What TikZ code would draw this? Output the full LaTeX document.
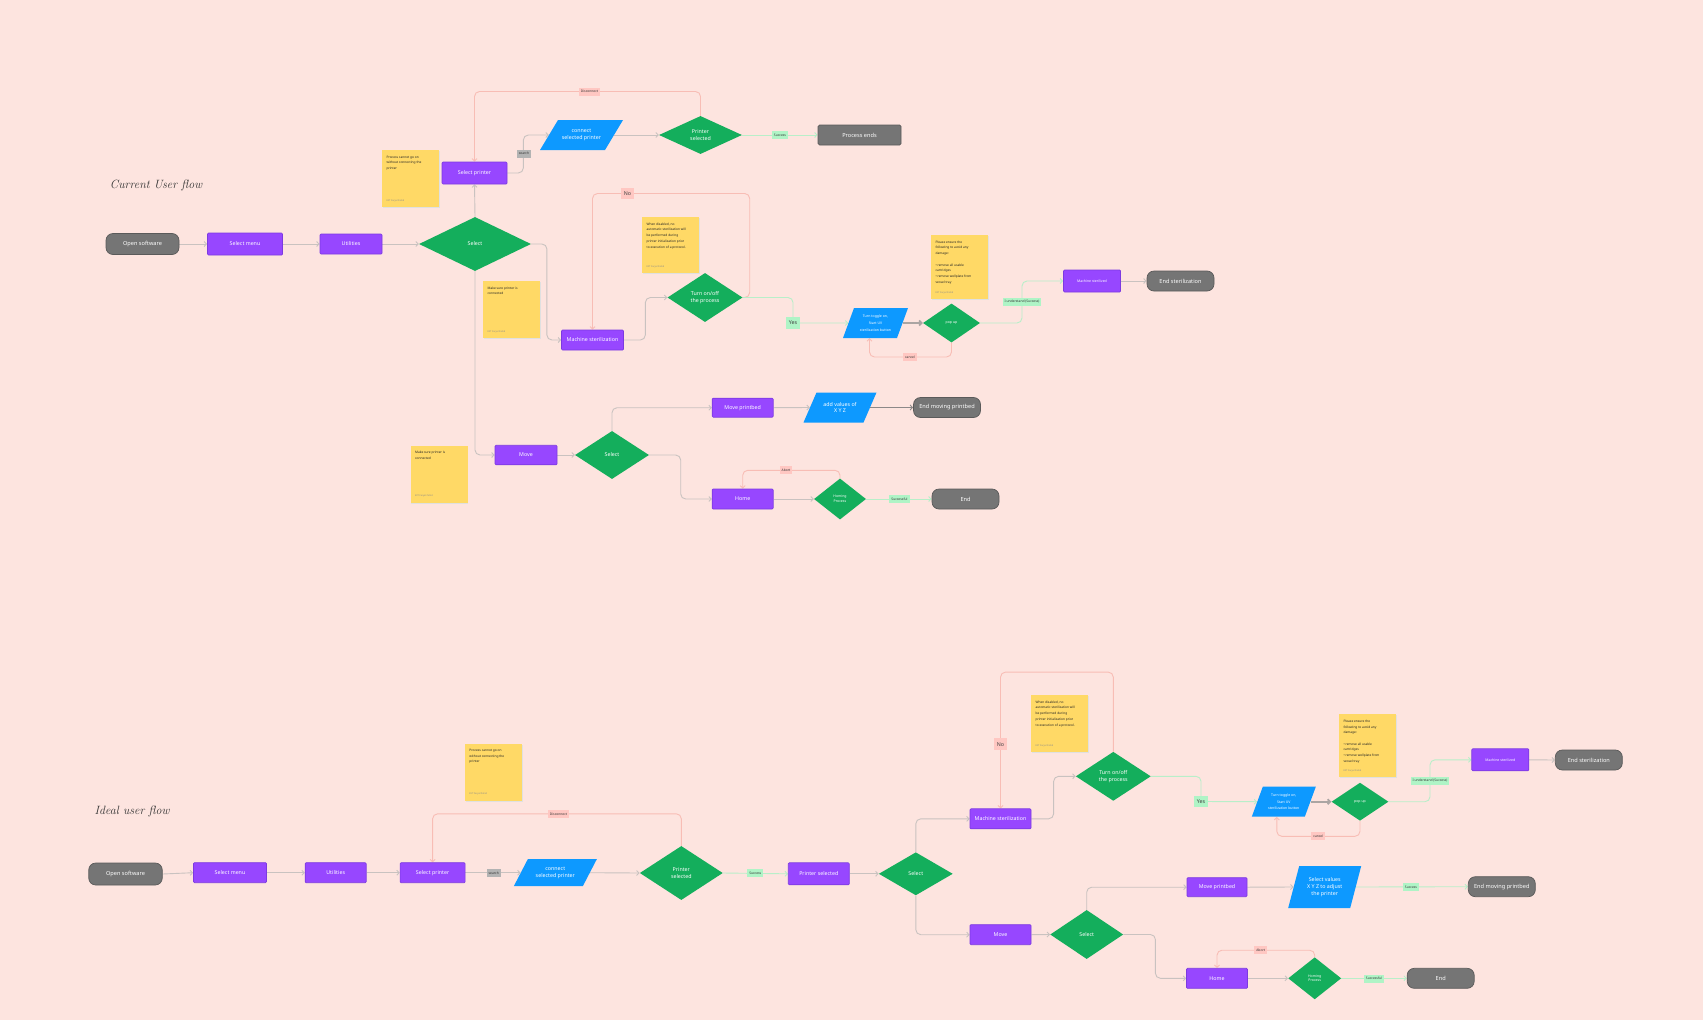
\documentclass[tikz,border=0pt]{standalone}
\usepackage{fontspec}
\setsansfont{Noto Sans}
\renewcommand{\familydefault}{\sfdefault}
\usetikzlibrary{shapes.geometric,arrows.meta,calc}
\pgfdeclarelayer{back}\pgfdeclarelayer{lines}\pgfsetlayers{back,lines,main}
\definecolor{bg}{HTML}{FDE4DF}
\definecolor{ppl}{HTML}{9747FF}
\definecolor{pplb}{HTML}{7C3AE0}
\definecolor{grn}{HTML}{14AE5C}
\definecolor{blu}{HTML}{0D99FF}
\definecolor{gry}{HTML}{757575}
\definecolor{gryb}{HTML}{5A5A5A}
\definecolor{yel}{HTML}{FFD966}
\definecolor{lpink}{HTML}{FFC7C2}
\definecolor{lgreen}{HTML}{AFF4C6}
\definecolor{lgray}{HTML}{B3B3B3}
\definecolor{cgray}{HTML}{C9C2C0}
\definecolor{dgray}{HTML}{8C8888}
\definecolor{cpink}{HTML}{F8BDB5}
\definecolor{cgreen}{HTML}{B8EFC9}
\newcommand\myfA{\fontsize{5.3}{6.8}\selectfont}
\newcommand\myfB{\fontsize{5.6}{7}\selectfont}
\newcommand\myfS{\fontsize{3.5}{4.8}\selectfont}
\newcommand\myfT{\fontsize{3.3}{4}\selectfont}
\newcommand\myfN{\fontsize{3.2}{5.7}\selectfont}
\newcommand\myfF{\fontsize{2.3}{3}\selectfont}
\newcommand\myparal[7]{%
  \fill[blu] ({#2-#4/2-#6/2},{#3+#5/2}) -- ({#2+#4/2-#6/2},{#3+#5/2}) -- ({#2+#4/2+#6/2},{#3-#5/2}) -- ({#2-#4/2+#6/2},{#3-#5/2}) -- cycle;
  \node[io, minimum width=#4pt, minimum height=#5pt] (#1) at (#2,#3) {#7};}
\newcommand\mynote[5]{%
  \node[note, minimum height=#4pt] (#1) at (#2,#3) {};
  \node[notetext, anchor=north west] (#1t) at ([shift={(4.6,5.8)}]#1.north west) {#5};
  \node[notefoot, anchor=south west] (#1f) at ([shift={(4.6,-5)}]#1.south west) {EXT Faryal Zahid};}
\begin{document}
\begin{tikzpicture}[x=1pt,y=-1pt,
  proc/.style={rectangle, fill=ppl, draw=pplb, line width=0.7pt, text=white, font=\myfA, inner sep=0pt, rounded corners=1pt},
  term/.style={rectangle, rounded corners=7pt, fill=gry, draw=gryb, line width=0.7pt, text=white, font=\myfB, inner sep=0pt},
  dec/.style={diamond, fill=grn, text=white, inner sep=0pt, font=\myfA, align=center},
  io/.style={rectangle, inner sep=0pt, text=white, align=center, font=\myfA},
  lab/.style={rectangle, inner xsep=2pt, inner ysep=0pt, minimum height=8pt, font=\myfT, text=black!80},
  plab/.style={lab, fill=lpink},
  glab/.style={lab, fill=lgreen},
  slab/.style={lab, fill=lgray},
  biglab/.style={rectangle, inner xsep=3pt, inner ysep=0pt, minimum height=11.5pt, font=\myfA, text=black!75},
  note/.style={rectangle, fill=yel, inner sep=0pt, minimum width=57pt,
     preaction={fill=black!12, transform canvas={shift={(0.7pt,-1.1pt)}}}},
  notetext/.style={inner sep=0pt, align=left, font=\myfN, text=black!85},
  notefoot/.style={inner sep=0pt, font=\myfF, text=black!45},
  ttl/.style={font=\rmfamily\itshape\fontsize{12}{14}\selectfont, text=black!80},
  tip/.style={-{Straight Barb[length=2.4pt,width=5pt]}},
  flow/.style={draw=cgray, line width=0.9pt, rounded corners=5pt, tip},
  dflow/.style={draw=dgray, line width=0.9pt, tip},
  tflow/.style={draw=cgray!85!black, line width=1.8pt, tip},
  pflow/.style={draw=cpink, line width=0.9pt, rounded corners=5pt, tip},
  gflow/.style={draw=cgreen, line width=0.9pt, rounded corners=5pt, tip}]
\begin{pgfonlayer}{back}
\fill[bg] (0,0) rectangle (1703,1020);
\end{pgfonlayer}
\useasboundingbox (0,0) rectangle (1703,1020);

% ===================== CURRENT USER FLOW =====================
\node[ttl] (title1) at (156,185) {Current User flow};
\node[term, minimum width=73pt, minimum height=21pt] (c_open) at (142.5,244) {Open software};
\node[proc, minimum width=75pt, minimum height=22pt] (c_menu) at (245,244) {Select menu};
\node[proc, minimum width=62pt, minimum height=20pt] (c_util) at (351,244) {Utilities};
\node[dec, minimum width=112pt, minimum height=54pt] (c_sel) at (475,244) {Select};
\node[proc, minimum width=65pt, minimum height=22pt] (c_selp) at (474.5,173) {Select printer};
\mynote{c_note1}{410.5}{178.5}{57}{Process cannot go on\\without connecting the\\printer}
\mynote{c_note2}{511.5}{309.5}{57}{Make sure printer is\\connected}
\myparal{c_conn}{581.5}{135}{65}{30}{18}{connect\\selected printer}
\node[dec, minimum width=83pt, minimum height=38pt] (c_prs) at (700.5,135) {Printer\\selected};
\node[term, rounded corners=1.5pt, minimum width=83pt, minimum height=20pt] (c_end1) at (859.5,135) {Process ends};
\node[slab] (c_search) at (524,153.5) {search};
\node[glab] (c_succ) at (780,135) {Success};
\node[plab] (c_disc) at (589.5,91.5) {Disconnect};
\node[dec, minimum width=75pt, minimum height=49pt] (c_turn) at (705,297.5) {Turn on/off\\the process};
\mynote{c_note3}{670.5}{245}{56}{When disabled, no\\automatic sterilization will\\be performed during\\printer initialization prior\\to execution of a protocol.}
\node[proc, minimum width=62pt, minimum height=20pt] (c_ms) at (592.5,340) {Machine sterilization};
\node[biglab, fill=lpink] (c_no) at (627.5,193.5) {No};
\node[biglab, fill=lgreen] (c_yes) at (793,323) {Yes};
\myparal{c_tog}{875.5}{323}{54}{30}{11}{\myfS Turn toggle on,\\\myfS Start UV\\\myfS sterilization button}
\node[dec, font=\myfS, minimum width=57pt, minimum height=39pt] (c_pop) at (951.5,323) {pop up};
\mynote{c_note4}{959.5}{267}{64}{Please ensure the\\following to avoid any\\damage:\\[5.7pt]\textbullet{} remove all usable\\cartridges\\\textbullet{} remove wellplate from\\vessel tray}
\node[plab] (c_cancel) at (910,357) {cancel};
\node[glab] (c_und) at (1022,302) {I understand (Success)};
\node[proc, font=\myfS, minimum width=57pt, minimum height=22pt] (c_msd) at (1092,281) {Machine sterilized};
\node[term, minimum width=67pt, minimum height=20pt] (c_endst) at (1180.5,281) {End sterilization};
\node[proc, minimum width=62pt, minimum height=19.5pt] (c_move) at (526,455) {Move};
\mynote{c_note5}{439}{474}{57}{Make sure printer is\\connected}
\node[dec, minimum width=74pt, minimum height=48pt] (c_sel2) at (612,455) {Select};
\node[proc, minimum width=61pt, minimum height=19pt] (c_mpb) at (742.7,407.7) {Move printbed};
\myparal{c_xyz}{840}{407.5}{60}{30}{13}{add values of\\X Y Z}
\node[term, minimum width=67pt, minimum height=20pt] (c_endmp) at (947,407.5) {End moving printbed};
\node[proc, minimum width=61pt, minimum height=20pt] (c_home) at (742.7,499) {Home};
\node[dec, font=\myfS, minimum width=52pt, minimum height=41pt] (c_homing) at (840,499) {Homing\\Process};
\node[plab] (c_abort) at (786,470.3) {Abort};
\node[glab] (c_sful) at (899.5,499) {Successful};
\node[term, minimum width=67pt, minimum height=20pt] (c_end) at (965.5,499) {End};

% ===================== IDEAL USER FLOW =====================
\node[ttl] (title2) at (132,811.5) {Ideal user flow};
\node[term, minimum width=73.5pt, minimum height=22pt] (i_open) at (125.5,874) {Open software};
\node[proc, minimum width=73pt, minimum height=20pt] (i_menu) at (230,872.7) {Select menu};
\node[proc, minimum width=61pt, minimum height=20pt] (i_util) at (335.7,872.7) {Utilities};
\node[proc, minimum width=65pt, minimum height=20pt] (i_selp) at (432.6,872.7) {Select printer};
\node[slab] (i_search) at (493.7,873) {search};
\myparal{i_conn}{555.3}{872.7}{69}{27}{14}{connect\\selected printer}
\node[dec, minimum width=83pt, minimum height=54pt] (i_prs) at (681.3,873) {Printer\\selected};
\node[plab] (i_disc) at (558.5,813.8) {Disconnect};
\mynote{i_note6}{493.3}{772}{57}{Process cannot go on\\without connecting the\\printer}
\node[glab] (i_succ) at (755.3,873.2) {Success};
\node[proc, minimum width=61pt, minimum height=22pt] (i_prsb) at (818.8,873.8) {Printer selected};
\node[dec, minimum width=74pt, minimum height=43pt] (i_sel) at (915.8,873.8) {Select};
\node[proc, minimum width=61pt, minimum height=20pt] (i_ms) at (1000.5,818.8) {Machine sterilization};
\node[proc, minimum width=61pt, minimum height=20pt] (i_move) at (1000.5,934.7) {Move};
\node[dec, minimum width=75pt, minimum height=49pt] (i_turn) at (1113.3,776.3) {Turn on/off\\the process};
\node[biglab, fill=lpink] (i_no) at (1000.5,744.2) {No};
\mynote{i_note7}{1059.5}{723.5}{57}{When disabled, no\\automatic sterilization will\\be performed during\\printer initialization prior\\to execution of a protocol.}
\node[biglab, fill=lgreen] (i_yes) at (1201,801.5) {Yes};
\myparal{i_tog}{1283.8}{801.7}{53}{30}{11}{\myfS Turn toggle on,\\\myfS Start UV\\\myfS sterilization button}
\node[dec, font=\myfS, minimum width=57pt, minimum height=38pt] (i_pop) at (1360,801.7) {pop up};
\mynote{i_note8}{1367.5}{745.7}{63}{Please ensure the\\following to avoid any\\damage:\\[5.7pt]\textbullet{} remove all usable\\cartridges\\\textbullet{} remove wellplate from\\vessel tray}
\node[plab] (i_cancel) at (1318.3,836.3) {cancel};
\node[glab] (i_und) at (1430,780.8) {I understand (Success)};
\node[proc, font=\myfS, minimum width=57pt, minimum height=22pt] (i_msd) at (1500.3,759.8) {Machine sterilized};
\node[term, minimum width=67pt, minimum height=20pt] (i_endst) at (1588.8,760) {End sterilization};
\node[dec, minimum width=73pt, minimum height=49pt] (i_sel4) at (1086.7,934.5) {Select};
\node[proc, minimum width=60pt, minimum height=19pt] (i_mpb) at (1217,887.2) {Move printbed};
\myparal{i_xyz}{1324.7}{887}{62}{42}{11}{Select values\\X Y Z to adjust\\the printer}
\node[glab] (i_succ2) at (1411,887.2) {Success};
\node[term, minimum width=67pt, minimum height=20pt] (i_endmp) at (1501.8,886.7) {End moving printbed};
\node[proc, minimum width=61pt, minimum height=20pt] (i_home) at (1217,978.3) {Home};
\node[dec, font=\myfS, minimum width=53pt, minimum height=42pt] (i_homing) at (1314.7,978.3) {Homing\\Process};
\node[plab] (i_abort) at (1260.7,950.2) {Abort};
\node[glab] (i_sful) at (1374,978.7) {Successful};
\node[term, minimum width=67pt, minimum height=20pt] (i_end) at (1440.7,978.3) {End};

% ===================== CONNECTORS =====================
\begin{pgfonlayer}{lines}
% current
\draw[flow] (c_open.east) -- (c_menu.west);
\draw[flow] (c_menu.east) -- (c_util.west);
\draw[flow] (c_util.east) -- (c_sel.west);
\draw[flow] (c_sel.north) -- (c_selp.south);
\draw[flow] (c_selp.east) -- ++(16,0) |- (c_conn.west);
\draw[flow] (c_conn.east) -- (c_prs.west);
\draw[gflow] (c_prs.east) -- (c_end1.west);
\draw[pflow] (c_prs.north) |- (c_disc.center) -| (c_selp.north);
\draw[flow] (c_sel.east) -- ++(15.7,0) |- (c_ms.west);
\draw[flow] (c_ms.east) -- ++(21.5,0) |- (c_turn.west);
\draw[pflow] (c_turn.east) -- ++(7,0) |- (c_no.center) -| (c_ms.north);
\draw[gflow] (c_turn.east) -| (c_yes.center) -- (c_tog.west);
\draw[tflow] (c_tog.east) -- (c_pop.west);
\draw[pflow] (c_pop.south) |- (c_cancel.center) -| ($(c_tog.south)+(-6,0)$);
\draw[gflow] (c_pop.east) -| (c_und.center) |- (c_msd.west);
\draw[flow] (c_msd.east) -- (c_endst.west);
\draw[flow] (c_sel.south) |- (c_move.west);
\draw[flow] (c_move.east) -- (c_sel2.west);
\draw[flow] (c_sel2.north) |- (c_mpb.west);
\draw[flow] (c_mpb.east) -- (c_xyz.west);
\draw[dflow] (c_xyz.east) -- (c_endmp.west);
\draw[flow] (c_sel2.east) -- ++(31.5,0) |- (c_home.west);
\draw[flow] (c_home.east) -- (c_homing.west);
\draw[gflow] (c_homing.east) -- (c_end.west);
\draw[pflow] (c_homing.north) |- (c_abort.center) -| (c_home.north);
% ideal
\draw[flow] (i_open.east) -- (i_menu.west);
\draw[flow] (i_menu.east) -- (i_util.west);
\draw[flow] (i_util.east) -- (i_selp.west);
\draw[flow] (i_selp.east) -- (i_conn.west);
\draw[flow] (i_conn.east) -- (i_prs.west);
\draw[pflow] (i_prs.north) |- (i_disc.center) -| (i_selp.north);
\draw[gflow] (i_prs.east) -- (i_prsb.west);
\draw[flow] (i_prsb.east) -- (i_sel.west);
\draw[flow] (i_sel.north) |- (i_ms.west);
\draw[flow] (i_sel.south) |- (i_move.west);
\draw[flow] (i_ms.east) -- ++(22.3,0) |- (i_turn.west);
\draw[pflow] (i_turn.north) -- ++(0,-79.5) -| (i_ms.north);
\draw[gflow] (i_turn.east) -| (i_yes.center) -- (i_tog.west);
\draw[tflow] (i_tog.east) -- (i_pop.west);
\draw[pflow] (i_pop.south) |- (i_cancel.center) -| ($(i_tog.south)+(-7,0)$);
\draw[gflow] (i_pop.east) -| (i_und.center) |- (i_msd.west);
\draw[flow] (i_msd.east) -- (i_endst.west);
\draw[flow] (i_move.east) -- (i_sel4.west);
\draw[flow] (i_sel4.north) |- (i_mpb.west);
\draw[flow] (i_mpb.east) -- (i_xyz.west);
\draw[gflow] (i_xyz.east) -- (i_endmp.west);
\draw[flow] (i_sel4.east) -- ++(32,0) |- (i_home.west);
\draw[flow] (i_home.east) -- (i_homing.west);
\draw[gflow] (i_homing.east) -- (i_end.west);
\draw[pflow] (i_homing.north) |- (i_abort.center) -| (i_home.north);
\end{pgfonlayer}
\end{tikzpicture}
\end{document}
